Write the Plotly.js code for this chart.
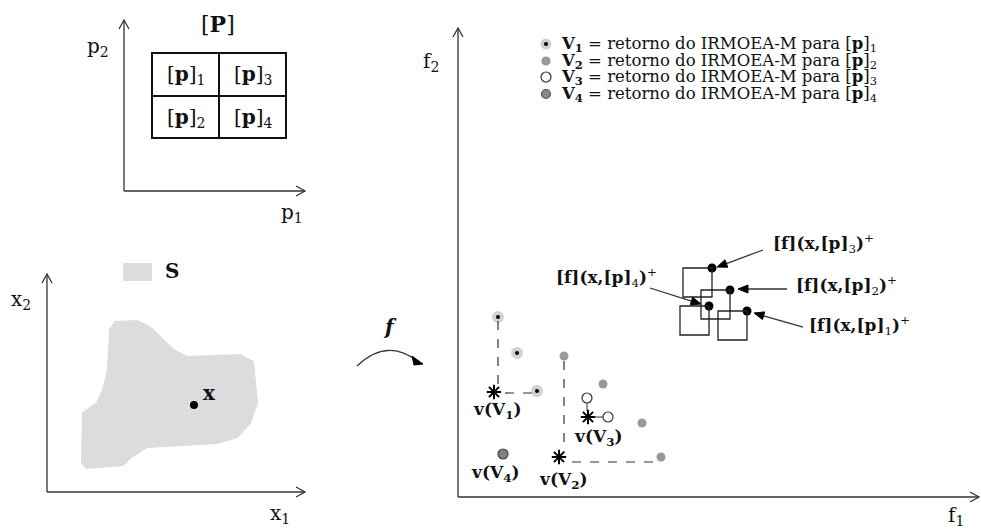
<!DOCTYPE html>
<html>
<head>
<meta charset="utf-8">
<script src="https://cdn.plot.ly/plotly-3.0.1.min.js"></script>
<style>html,body{margin:0;padding:0;background:#fff;}#chart{width:981px;height:531px;}</style>
</head>
<body>
<div id="chart"></div>
<script>
// ---- data (diagram coordinates, pixel-like units) ----
const v1F1 = [498, 517, 537];
const v1F2 = [317, 353, 391];
const v2F1 = [564, 603, 642, 661];
const v2F2 = [356, 384, 423, 457];
const v3F1 = [587, 608];
const v3F2 = [398, 417];
const v4F1 = [503];
const v4F2 = [454];
const starF1 = [494, 559, 588];
const starF2 = [392, 457, 417];
const boxF1 = [747, 730, 712, 709];   // [f](x,[p]_k)+ for k=1..4
const boxF2 = [311, 290, 268, 306];
const boxLabels = ['1', '2', '3', '4'];
const legendLabels = ['1', '2', '3', '4'];
const cellLabels = ['1', '3', '2', '4'];
const blobX = [115,137,150,163,173,187,240,253,257,250,237,217,147,130,123,87,82,83,97,103,108,110];
const blobY = [322,321,327,340,350,357,355,362,403,423,437,443,447,458,465,468,463,413,403,390,370,330];
const xPoint = [194], yPoint = [405];

const FONT = 'DejaVu Serif, Liberation Serif, serif';
const shapes = [];
const annotations = [];
const traces = [];
const AX = '#333';

function line(x0,y0,x1,y1,opt){
  shapes.push(Object.assign({type:'line',xref:'x',yref:'y',x0:x0,y0:y0,x1:x1,y1:y1,line:{color:AX,width:1.3}},opt||{}));
}
function openArrowAxis(x0,y0,x1,y1){
  line(x0,y0,x1,y1);
  const dx=x1-x0, dy=y1-y0, L=Math.hypot(dx,dy), ux=dx/L, uy=dy/L;
  const h=9, w=5;
  const bx=x1-ux*h, by=y1-uy*h;
  shapes.push({type:'path',xref:'x',yref:'y',path:`M ${bx-uy*w} ${by+ux*w} L ${x1} ${y1} L ${bx+uy*w} ${by-ux*w}`,line:{color:AX,width:1.3}});
}
function solidArrow(x0,y0,x1,y1){
  const dx=x1-x0, dy=y1-y0, L=Math.hypot(dx,dy), ux=dx/L, uy=dy/L;
  const h=10, w=4;
  const bx=x1-ux*h, by=y1-uy*h;
  line(x0,y0,bx,by,{line:{color:'#333',width:1.3}});
  shapes.push({type:'path',xref:'x',yref:'y',path:`M ${bx-uy*w} ${by+ux*w} L ${x1} ${y1} L ${bx+uy*w} ${by-ux*w} Z`,fillcolor:'#000',line:{color:'#000',width:1}});
}
function text(x,y,t,size,opt){
  annotations.push(Object.assign({xref:'x',yref:'y',x:x,y:y,text:t,showarrow:false,
    font:{family:FONT,size:size,color:'#111'},xanchor:'center',yanchor:'middle'},opt||{}));
}

// ---- panel 1: parameter space ----
openArrowAxis(124,191,124,20);
openArrowAxis(124,191,305,191);
text(98,47,'p<sub>2</sub>',20);
text(292,213,'p<sub>1</sub>',20);
text(218,24,'[<b>P</b>]',22);
shapes.push({type:'rect',xref:'x',yref:'y',x0:152,y0:53,x1:286,y1:138,line:{color:'#111',width:2}});
line(219,53,219,138,{line:{color:'#111',width:2}});
line(152,96,286,96,{line:{color:'#111',width:2}});
const cellPos = [[186,75],[253,75],[186,118],[253,118]];
cellLabels.forEach((k,i)=>text(cellPos[i][0],cellPos[i][1],'[<b>p</b>]<sub>'+k+'</sub>',20));

// ---- panel 2: decision space ----
openArrowAxis(47,492,47,274);
openArrowAxis(47,492,305,492);
text(21,300,'x<sub>2</sub>',20);
text(280,514,'x<sub>1</sub>',20);
shapes.push({type:'rect',xref:'x',yref:'y',x0:123,y0:263,x1:152,y1:281,fillcolor:'#dcdcdc',line:{width:0}});
text(172,271,'<b>S</b>',20);
let bp = 'M '+blobX[0]+' '+blobY[0];
for(let i=1;i<blobX.length;i++) bp += ' L '+blobX[i]+' '+blobY[i];
shapes.push({type:'path',xref:'x',yref:'y',path:bp+' Z',fillcolor:'#dcdcdc',line:{color:'#dcdcdc',width:2},layer:'below'});
traces.push({type:'scatter',mode:'markers',x:xPoint,y:yPoint,marker:{size:8,color:'#000'},hoverinfo:'skip'});
text(209,393,'<b>x</b>',20);

// ---- mapping arrow f ----
shapes.push({type:'path',xref:'x',yref:'y',path:'M 357 366 Q 386 338 416 360',line:{color:'#333',width:1.3}});
shapes.push({type:'path',xref:'x',yref:'y',path:'M 412 356 L 423 364 L 414 365 Z',fillcolor:'#000',line:{color:'#000',width:1}});
text(390,327,'<b><i>f</i></b>',20);

// ---- panel 3: objective space ----
openArrowAxis(458,497,458,28);
openArrowAxis(458,497,979,497);
text(431,62,'f<sub>2</sub>',20);
text(956,516,'f<sub>1</sub>',20);

// legend
const legY = [44, 61, 77, 94];
const legStyles = [
  {halo:true},
  {color:'#999',line:'#999',size:8},
  {color:'#fff',line:'#333',size:10},
  {color:'#888',line:'#555',size:9}
];
legendLabels.forEach((k,i)=>{
  text(559,legY[i],'<b>V<sub>'+k+'</sub></b> = retorno do IRMOEA-M para [<b>p</b>]<sub>'+k+'</sub>',16.5,{xanchor:'left'});
});
traces.push({type:'scatter',mode:'markers',x:[546],y:[legY[0]],marker:{size:11,color:'#cfcfcf'},hoverinfo:'skip'});
traces.push({type:'scatter',mode:'markers',x:[546],y:[legY[0]],marker:{size:4,color:'#000'},hoverinfo:'skip'});
[1,2,3].forEach(i=>{
  const s=legStyles[i];
  traces.push({type:'scatter',mode:'markers',x:[546],y:[legY[i]],marker:{size:s.size,color:s.color,line:{color:s.line,width:1.2}},hoverinfo:'skip'});
});

// boxes [f](x,[p]_k)+
const BS = 29;
boxF1.forEach((bx,i)=>{
  shapes.push({type:'rect',xref:'x',yref:'y',x0:bx-BS,y0:boxF2[i],x1:bx,y1:boxF2[i]+BS,line:{color:'#222',width:1.3}});
});
traces.push({type:'scatter',mode:'markers',x:boxF1,y:boxF2,marker:{size:9,color:'#000'},hoverinfo:'skip'});
const boxLabelPos = [[859,325],[846,285],[823,243],[606,277]];
boxLabels.forEach((k,i)=>{
  text(boxLabelPos[i][0],boxLabelPos[i][1],'<b>[f](x,[p]</b><sub>'+k+'</sub><b>)</b><sup>+</sup>',17);
});
solidArrow(803,327,754,313);
solidArrow(787,289,738,289);
solidArrow(763,250,717,267);
solidArrow(650,288,701,304);

// dashed lines to ideal points
const dash = {color:'#333',width:1.2,dash:'dash'};
line(498,321,498,384,{line:dash});
line(505,393,532,393,{line:dash});
line(564,361,564,452,{line:dash});
line(572,462,656,462,{line:dash});
line(587,403,587,411,{line:{color:'#333',width:1}});
line(594,417,603,417,{line:{color:'#333',width:1}});

// V1 (halo + dot)
traces.push({type:'scatter',mode:'markers',x:v1F1,y:v1F2,marker:{size:12,color:'#d2d2d2'},hoverinfo:'skip'});
traces.push({type:'scatter',mode:'markers',x:v1F1,y:v1F2,marker:{size:4,color:'#000'},hoverinfo:'skip'});
// V2
traces.push({type:'scatter',mode:'markers',x:v2F1,y:v2F2,marker:{size:9,color:'#999'},hoverinfo:'skip'});
// V3
traces.push({type:'scatter',mode:'markers',x:v3F1,y:v3F2,marker:{size:10,color:'#fff',line:{color:'#333',width:1.2}},hoverinfo:'skip'});
// V4
traces.push({type:'scatter',mode:'markers',x:v4F1,y:v4F2,marker:{size:10,color:'#808080',line:{color:'#444',width:1.2}},hoverinfo:'skip'});
// ideal points
traces.push({type:'scatter',mode:'markers',x:starF1,y:starF2,marker:{symbol:'asterisk-open',size:12,color:'#000',line:{color:'#000',width:2}},hoverinfo:'skip'});

text(497,410,'<b>v(V<sub>1</sub>)</b>',17);
text(563,480,'<b>v(V<sub>2</sub>)</b>',17);
text(598,437,'<b>v(V<sub>3</sub>)</b>',17);
text(495,473,'<b>v(V<sub>4</sub>)</b>',17);

const layout = {
  width:981,height:531,margin:{l:0,r:0,t:0,b:0},
  paper_bgcolor:'#fff',plot_bgcolor:'#fff',showlegend:false,
  xaxis:{range:[0,981],visible:false,fixedrange:true},
  yaxis:{range:[531,0],visible:false,fixedrange:true},
  shapes:shapes,annotations:annotations
};
Plotly.newPlot('chart',traces,layout,{displayModeBar:false,staticPlot:true});
</script>
</body>
</html>
